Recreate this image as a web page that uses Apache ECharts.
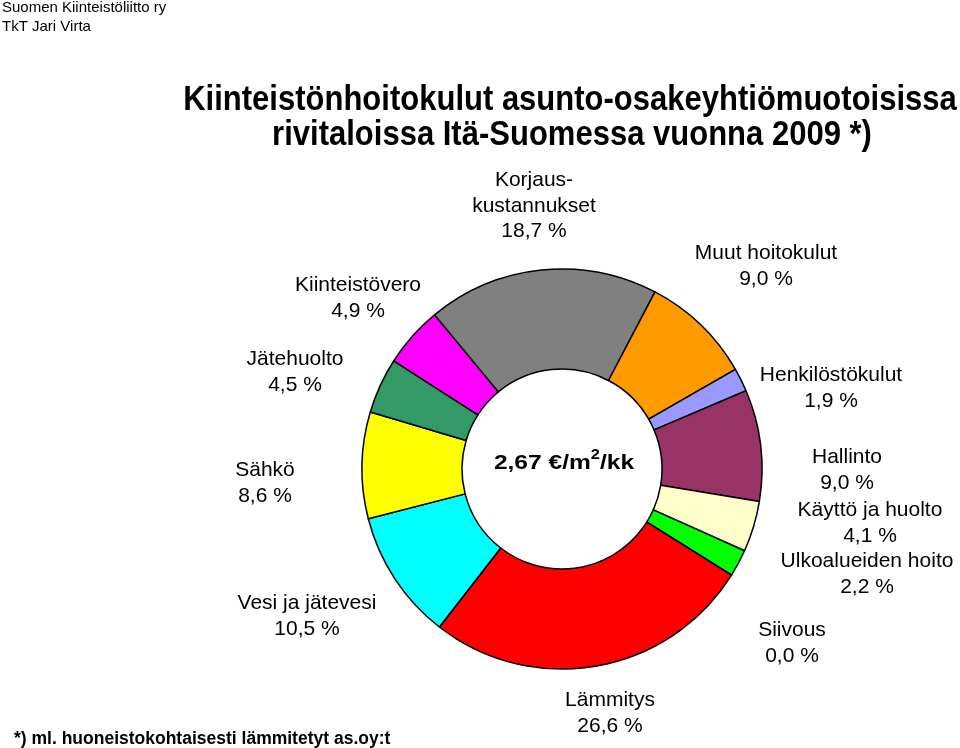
<!DOCTYPE html>
<html>
<head>
<meta charset="utf-8">
<script src="https://cdn.jsdelivr.net/npm/echarts@6/dist/echarts.min.js"></script>
<style>html,body{margin:0;padding:0;background:#fff}#c{width:960px;height:748px}</style>
</head>
<body>
<div id="c"></div>
<script>
// Data (clockwise, starting with Korjauskustannukset)
const categories = ['Korjauskustannukset','Muut hoitokulut','Henkilöstökulut','Hallinto','Käyttö ja huolto','Ulkoalueiden hoito','Siivous','Lämmitys','Vesi ja jätevesi','Sähkö','Jätehuolto','Kiinteistövero'];
const labelNames = ['Korjaus-\nkustannukset','Muut hoitokulut','Henkilöstökulut','Hallinto','Käyttö ja huolto','Ulkoalueiden hoito','Siivous','Lämmitys','Vesi ja jätevesi','Sähkö','Jätehuolto','Kiinteistövero'];
const values = [18.7, 9.0, 1.9, 9.0, 4.1, 2.2, 0.0, 26.6, 10.5, 8.6, 4.5, 4.9];
const colors = ['#808080','#FF9900','#9999FF','#993366','#FFFFCC','#00FF00','#CCFFFF','#FF0000','#00FFFF','#FFFF00','#339966','#FF00FF'];
const centerValue = '2,67';
const titleLines = ['Kiinteistönhoitokulut asunto-osakeyhtiömuotoisissa', 'rivitaloissa Itä-Suomessa vuonna 2009 *)'];
const sourceLines = ['Suomen Kiinteistöliitto ry', 'TkT Jari Virta'];
const footnote = '*) ml. huoneistokohtaisesti lämmitetyt as.oy:t';

// Label placement (layout only)
const labelPos = [
  [534, 206], [766, 266], [831, 388], [847, 470], [870, 523], [867, 574],
  [792, 643], [610, 713], [307, 616], [265, 483], [295, 372], [358, 298]
];

const fmt = v => v.toFixed(1).replace('.', ',');
const FONT = '"Liberation Sans", Arial, sans-serif';

const chart = echarts.init(document.getElementById('c'));
chart.setOption({
  animation: false,
  graphic: [
    { type: 'text', x: 570, y: 100, scaleX: 0.886,
      style: { text: titleLines[0], x: 0, y: 0, align: 'center', verticalAlign: 'middle', font: 'bold 35px ' + FONT, fill: '#000' } },
    { type: 'text', x: 572, y: 135, scaleX: 0.886,
      style: { text: titleLines[1], x: 0, y: 0, align: 'center', verticalAlign: 'middle', font: 'bold 35px ' + FONT, fill: '#000' } },
    { type: 'text', x: 2, y: 8,
      style: { text: sourceLines[0], x: 0, y: 0, align: 'left', verticalAlign: 'middle', font: '15px ' + FONT, fill: '#000' } },
    { type: 'text', x: 2, y: 27,
      style: { text: sourceLines[1], x: 0, y: 0, align: 'left', verticalAlign: 'middle', font: '15px ' + FONT, fill: '#000' } },
    { type: 'text', x: 14, y: 739,
      style: { text: footnote, x: 0, y: 0, align: 'left', verticalAlign: 'middle', font: 'bold 17.5px ' + FONT, fill: '#000' } },
    { type: 'text', x: 564, y: 461, scaleX: 1.17,
      style: {
        text: '{a|' + centerValue + ' €/m}{s|2}{a|/kk}', x: 0, y: 0, align: 'center', verticalAlign: 'middle',
        rich: {
          a: { fontFamily: FONT, fontWeight: 'bold', fontSize: 21, fill: '#000', verticalAlign: 'bottom', lineHeight: 26 },
          s: { fontFamily: FONT, fontWeight: 'bold', fontSize: 14, fill: '#000', verticalAlign: 'top', lineHeight: 26, padding: [0, 0, 10, 0] }
        }
      }
    }
  ],
  series: [{
    type: 'pie',
    center: [562, 469],
    radius: [100, 200],
    startAngle: 129.6,
    clockwise: true,
    avoidLabelOverlap: false,
    minShowLabelAngle: 0,
    itemStyle: { borderColor: '#000', borderWidth: 1.5 },
    label: {
      show: true,
      position: 'outside',
      fontFamily: FONT,
      fontSize: 21,
      lineHeight: 25.5,
      color: '#000',
      align: 'center',
      formatter: p => labelNames[p.dataIndex] + '\n' + fmt(p.value) + ' %'
    },
    labelLine: { show: false },
    labelLayout: p => ({
      x: labelPos[p.dataIndex][0],
      y: labelPos[p.dataIndex][1],
      align: 'center',
      verticalAlign: 'middle',
      hideOverlap: false,
      moveOverlap: null
    }),
    emphasis: { disabled: true },
    data: categories.map((c, i) => ({ name: c, value: values[i], itemStyle: { color: colors[i] } }))
  }]
});
</script>
</body>
</html>
